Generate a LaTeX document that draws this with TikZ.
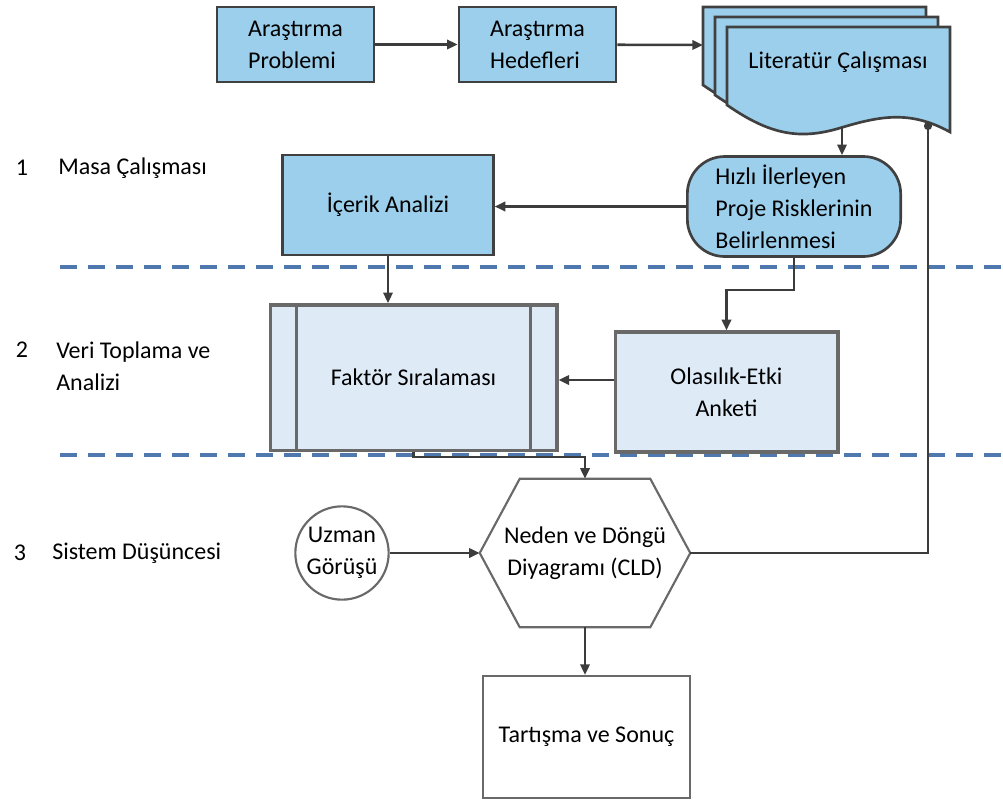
\documentclass[tikz,border=0pt]{standalone}
\usepackage{fontspec}
\setmainfont{Carlito}
\usetikzlibrary{arrows.meta}
\definecolor{boxblue}{RGB}{156,207,236}
\definecolor{paleblue}{RGB}{222,235,247}
\definecolor{dashblue}{RGB}{79,120,175}
\definecolor{linegray}{RGB}{60,60,60}
\definecolor{edgegray}{RGB}{105,105,105}

\begin{document}
\begin{tikzpicture}[x=0.75pt,y=-0.75pt,
	txt/.style={font=\fontsize{18}{24}\selectfont},
	bluebox/.style={txt, draw=black!75, line width=2pt, fill=boxblue, inner sep=0pt},
	palebox/.style={txt, draw=edgegray, line width=2.5pt, fill=paleblue, inner sep=0pt},
	whitebox/.style={txt, draw=edgegray, line width=1.6pt, fill=white, inner sep=0pt},
	conn/.style={draw=linegray, line width=1.9pt, -{Triangle[length=8pt,width=7pt]}},
	lane/.style={draw=dashblue, line width=3pt, dash pattern=on 13pt off 8pt}]
	\useasboundingbox (0,0) rectangle (1003,800);

	\draw[lane] (60,267) -- (1003,267);
	\draw[lane] (60,455) -- (1003,455);

	\node[txt] (num1) at (22,168) {1};
	\node[txt, anchor=west, inner sep=0] (lab1) at (58,168) {Masa Çalışması};
	\node[txt] (num2) at (22,350) {2};
	\node[txt, anchor=west, inner sep=0, align=left] (lab2) at (56,366) {Veri Toplama ve\\Analizi};
	\node[txt] (num3) at (20,553) {3};
	\node[txt, anchor=west, inner sep=0] (lab3) at (52,553) {Sistem Düşüncesi};

	\node[bluebox, minimum width=117.75pt, minimum height=56.25pt, align=left] (prob) at (295.5,44.5) {Araştırma\\Problemi};
	\node[bluebox, minimum width=117.75pt, minimum height=56.25pt, align=left] (hedef) at (537.5,44.5) {Araştırma\\Hedefleri};

	\foreach \dx/\dy in {-24/-20,-12/-10,0/0}
		\filldraw[draw=black!75, line width=2pt, fill=boxblue, shift={(\dx,\dy)}] (727,27) -- (950,27) -- (950,132)
			.. controls (910,110) and (880,116) .. (840,128) .. controls (800,140) and (770,135) .. (727,105) -- cycle;
	\node[txt] (lit) at (838,62) {Literatür Çalışması};
	\coordinate (litin) at (703,45);
	\coordinate (litout) at (842,127);
	\coordinate (litback) at (928,122);

	\node[bluebox, rounded corners=28pt, minimum width=160pt, minimum height=75pt, align=left] (risk) at (794,206.5) {Hızlı İlerleyen\\Proje Risklerinin\\Belirlenmesi};
	\node[bluebox, minimum width=158pt, minimum height=75pt] (icerik) at (388,205) {İçerik Analizi};

	\node[palebox, minimum width=215pt, minimum height=109pt] (faktor) at (413.5,377.5) {Faktör Sıralaması};
	\draw[edgegray, line width=2.5pt] ([xshift=21pt]faktor.north west) -- ([xshift=21pt]faktor.south west);
	\draw[edgegray, line width=2.5pt] ([xshift=-21pt]faktor.north east) -- ([xshift=-21pt]faktor.south east);
	\node[palebox, minimum width=167pt, minimum height=90pt, align=center] (anket) at (726.5,392) {Olasılık-Etki\\Anketi};

	\node[whitebox, circle, minimum size=70pt, align=center] (uzman) at (342,553) {Uzman\\Görüşü};
	\node[txt, minimum width=157.5pt, minimum height=111pt, inner sep=0, align=center] (cld) at (585,553) {Neden ve Döngü\\Diyagramı (CLD)};
	\draw[edgegray, line width=1.6pt] (cld.west) -- ([xshift=30pt]cld.north west) -- ([xshift=-30pt]cld.north east)
		-- (cld.east) -- ([xshift=-30pt]cld.south east) -- ([xshift=30pt]cld.south west) -- cycle;
	\node[whitebox, minimum width=155pt, minimum height=91.5pt] (sonuc) at (586.5,737) {Tartışma ve Sonuç};

	\draw[conn] (prob) -- (hedef);
	\draw[conn] (hedef) -- (litin);
	\draw[conn] (litout) -- (litout |- risk.north);
	\draw[conn] (risk.west) -- (risk.west -| icerik.east);
	\draw[conn] (icerik.south) -- (icerik.south |- faktor.north);
	\draw[conn] (risk.south) -- ++(0,32) -| (anket.north);
	\draw[conn] ([yshift=9pt]anket.west) -- ([yshift=9pt]anket.west -| faktor.east);
	\draw[conn] (faktor.south) -- ++(0,5) -| (cld.north);
	\draw[conn] (uzman) -- (cld.west);
	\draw[conn] (cld.south) -- (cld.south |- sonuc.north);
	\draw[draw=linegray, line width=1.9pt, -{Circle[length=6pt]}] (cld.east) -| (litback);
\end{tikzpicture}
\end{document}
